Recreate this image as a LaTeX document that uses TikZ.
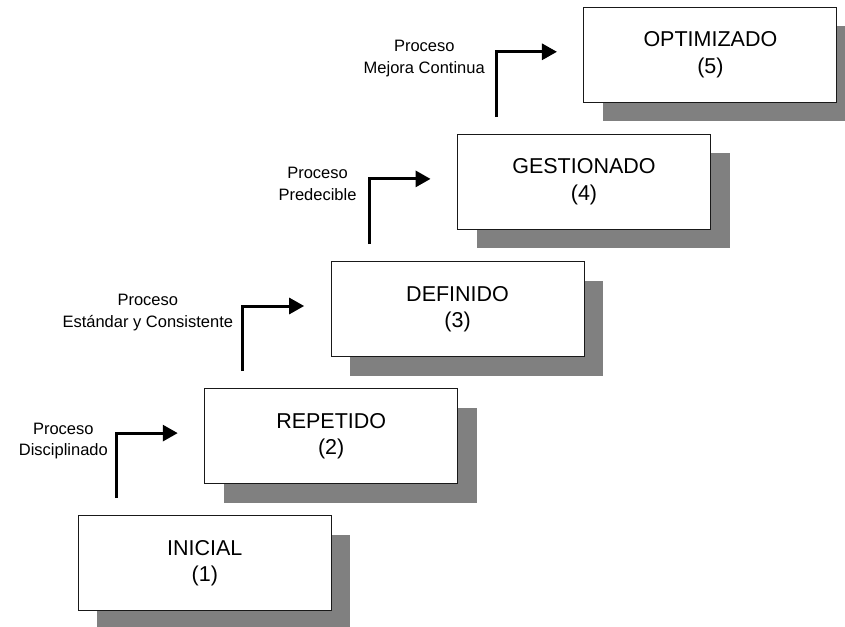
\documentclass[tikz,border=0pt]{standalone}
\usepackage{fontspec}
\setmainfont{Liberation Sans}
\usetikzlibrary{arrows.meta,shadows}
\definecolor{shadowgray}{HTML}{808080}
% two centred lines whose first baseline is the node's base
\newcommand\proclines[2]{\begin{tabular}[t]{@{}c@{}}#1\\#2\end{tabular}}
\begin{document}
\begin{tikzpicture}[x=1pt,y=-1pt,
  level/.style={draw=black!90, line width=0.9pt, fill=white,
    minimum width=253pt, minimum height=95pt, inner sep=0pt, align=center,
    font=\fontsize{21.5}{26.5}\selectfont,
    general shadow={fill=shadowgray, shadow xshift=19pt, shadow yshift=-19pt}},
  lbl/.style={inner sep=0pt, anchor=base east, font=\fontsize{16.5}{21.5}\selectfont},
  stair/.style={line width=3pt, line join=miter, -{Triangle[length=15pt,width=16pt]}}
]
\useasboundingbox (0,0) rectangle (845,626);
\clip (0,0) rectangle (845,626);

% maturity levels, climbing to the upper right
\node[level] (n1) at (204.8,563.2) {INICIAL\\(1)};
\node[level] (n2) at (331.2,436.1) {REPETIDO\\(2)};
\node[level] (n3) at (457.6,309.0) {DEFINIDO\\(3)};
\node[level] (n4) at (584.0,181.9) {GESTIONADO\\(4)};
\node[level] (n5) at (710.4,54.8)  {OPTIMIZADO\\(5)};

% feet of the step arrows
\coordinate (s1) at (116.0,498.0);
\coordinate (s2) at (242.7,371.0);
\coordinate (s3) at (369.3,244.0);
\coordinate (s4) at (496.0,117.0);

\draw[stair] (s1) |- ([xshift=-26.5pt,yshift=3pt]n2.west);
\draw[stair] (s2) |- ([xshift=-26.5pt,yshift=3pt]n3.west);
\draw[stair] (s3) |- ([xshift=-26.5pt,yshift=3pt]n4.west);
\draw[stair] (s4) |- ([xshift=-26.5pt,yshift=3pt]n5.west);

% step labels
\node[lbl] (l1) at (108.0,434.0) {\proclines{Proceso}{Disciplinado}};
\node[lbl] (l2) at (233.3,305.5) {\proclines{Proceso}{Estándar y Consistente}};
\node[lbl] (l3) at (356.7,178.5) {\proclines{Proceso}{Predecible}};
\node[lbl] (l4) at (485.0,51.7)  {\proclines{Proceso}{Mejora Continua}};
\end{tikzpicture}
\end{document}
